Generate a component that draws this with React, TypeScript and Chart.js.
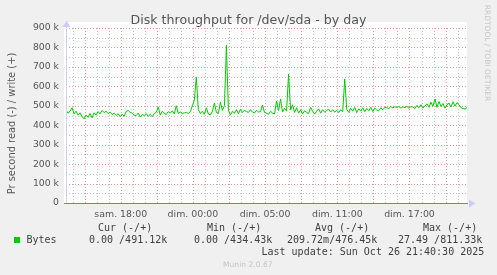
import React, { useEffect, useRef } from "react";
import { Chart, registerables } from "chart.js";

Chart.register(...registerables);

// ---- data -------------------------------------------------------------
const TITLE = "Disk throughput for /dev/sda - by day";
const Y_TITLE = "Pr second read (-) / write (+)";
const SIDE_TEXT = "RRDTOOL / TOBI OETIKER";
const FOOTER = "Munin 2.0.67";
const LAST_UPDATE = "Last update: Sun Oct 26 21:40:30 2025";

// hours relative to "sam. 18:00"; one sample every 10 minutes
const SAMPLE_START_HOUR = -4.55;
const SAMPLE_STEP_HOUR = 1 / 6;
const X_MIN = -4.55;
const X_MAX = 28.78;

const tickHours = [0, 6, 12, 18, 24];
const tickLabels = ["sam. 18:00", "dim. 00:00", "dim. 05:00", "dim. 11:00", "dim. 17:00"];
const yTicks = [0, 100, 200, 300, 400, 500, 600, 700, 800, 900];

// write bytes per second (k)
const writeK = [
  478, 462, 472, 490, 458, 472, 452, 464, 445, 432,
  452, 440, 460, 438, 464, 452, 470, 458, 476, 465,
  472, 460, 467, 455, 462, 450, 460, 444, 457, 446,
  470, 476, 466, 463, 452, 450, 462, 443, 455, 450,
  460, 446, 456, 444, 460, 466, 494, 452, 472, 460,
  456, 470, 462, 474, 458, 500, 460, 468, 461, 463,
  466, 460, 470, 500, 530, 647, 480, 460, 472, 456,
  490, 458, 452, 470, 514, 466, 460, 518, 476, 500,
  811, 478, 452, 472, 462, 480, 460, 482, 465, 477,
  470, 466, 480, 468, 463, 477, 468, 470, 504, 466,
  462, 456, 472, 462, 458, 524, 476, 535, 468, 487,
  472, 663, 478, 505, 466, 490, 462, 480, 458, 474,
  466, 460, 492, 472, 458, 472, 484, 462, 480, 467,
  476, 482, 468, 480, 467, 477, 465, 480, 470, 638,
  482, 466, 487, 472, 492, 465, 484, 472, 490, 469,
  487, 475, 492, 470, 488, 478, 474, 490, 480, 492,
  490, 486, 496, 489, 495, 491, 496, 488, 495, 490,
  497, 488, 495, 494, 486, 502, 490, 506, 488, 499,
  510, 492, 518, 497, 535, 492, 522, 496, 512, 488,
  506, 514, 493, 521, 498, 516, 506, 490, 486, 483,
  491,
];

const legendSeries = "Bytes";
const legendHeaders = ["Cur (-/+)", "Min (-/+)", "Avg (-/+)", "Max (-/+)"];
const legendValues = ["0.00 /491.12k", "0.00 /434.43k", "209.72m/476.45k", "27.49 /811.33k"];

// ---- styling ----------------------------------------------------------
const W = 497;
const H = 275;
const GREEN = "#00cc00";
const BACK = "#f0f0f0";
const GRID_MINOR = "#c4c4c4";
const GRID_MAJOR = "#e49a9a";
const SANS = "'DejaVu Sans', sans-serif";
const MONO = "'DejaVu Sans Mono', monospace";

const muninPlugin = {
  id: "munin",
  beforeDraw(chart: any) {
    const ctx = chart.ctx;
    const { left, right, bottom } = chart.chartArea;
    ctx.save();
    ctx.fillStyle = BACK;
    ctx.fillRect(0, 0, W, H);
    ctx.fillStyle = "#ffffff";
    ctx.fillRect(left - 2, 22, right - left + 2, bottom - 22 + 1);
    ctx.restore();
  },
  beforeDatasetsDraw(chart: any) {
    const ctx = chart.ctx;
    const xs = chart.scales.x;
    const ys = chart.scales.y;
    const { left, right, top, bottom } = chart.chartArea;
    ctx.save();
    ctx.lineWidth = 1;
    ctx.setLineDash([1, 2]);
    for (let v = 50; v <= 900; v += 50) {
      const py = Math.round(ys.getPixelForValue(v)) + 0.5;
      ctx.strokeStyle = v % 100 === 0 ? GRID_MAJOR : GRID_MINOR;
      ctx.beginPath();
      ctx.moveTo(left, py);
      ctx.lineTo(right, py);
      ctx.stroke();
    }
    for (let h = Math.ceil(X_MIN); h <= X_MAX; h++) {
      const px = Math.round(xs.getPixelForValue(h)) + 0.5;
      ctx.strokeStyle = h % 3 === 0 ? GRID_MAJOR : GRID_MINOR;
      ctx.beginPath();
      ctx.moveTo(px, bottom);
      ctx.lineTo(px, top);
      ctx.stroke();
    }
    ctx.restore();
  },
  afterDatasetsDraw(chart: any) {
    const ctx = chart.ctx;
    const { left, right, bottom } = chart.chartArea;
    ctx.save();
    // axes
    ctx.lineWidth = 1;
    ctx.strokeStyle = "#d0d0f4";
    ctx.beginPath();
    ctx.moveTo(left + 0.5, bottom);
    ctx.lineTo(left + 0.5, 25);
    ctx.stroke();
    ctx.strokeStyle = "#80809c";
    ctx.beginPath();
    ctx.moveTo(left - 2, bottom + 0.5);
    ctx.lineTo(right + 1, bottom + 0.5);
    ctx.stroke();
    ctx.fillStyle = "#ccccff";
    ctx.beginPath();
    ctx.moveTo(left - 3.5, 27);
    ctx.lineTo(left + 0.5, 20.5);
    ctx.lineTo(left + 4.5, 27);
    ctx.closePath();
    ctx.fill();
    ctx.beginPath();
    ctx.moveTo(right + 2, bottom - 3.5);
    ctx.lineTo(right + 8.5, bottom + 0.5);
    ctx.lineTo(right + 2, bottom + 4.5);
    ctx.closePath();
    ctx.fill();

    // title
    ctx.fillStyle = "#555555";
    ctx.font = `12.6px ${SANS}`;
    ctx.textAlign = "center";
    ctx.textBaseline = "alphabetic";
    ctx.fillText(TITLE, 248.5, 23.5);

    // y axis title
    ctx.save();
    ctx.translate(14.5, 123.5);
    ctx.rotate(-Math.PI / 2);
    ctx.font = `9.9px ${SANS}`;
    ctx.fillText(Y_TITLE, 0, 0);
    ctx.restore();

    // side text
    ctx.save();
    ctx.translate(484.5, 53);
    ctx.rotate(Math.PI / 2);
    ctx.fillStyle = "#c8c8c8";
    ctx.font = `7.5px ${SANS}`;
    ctx.fillText(SIDE_TEXT, 0, 0);
    ctx.restore();

    // legend
    ctx.fillStyle = "#404040";
    ctx.font = `10px ${MONO}`;
    ctx.textAlign = "left";
    const headerX = [98, 207, 315, 423];
    legendHeaders.forEach((t, i) => ctx.fillText(t, headerX[i], 231));
    const valueX = [89, 194, 287, 398];
    legendValues.forEach((t, i) => ctx.fillText(t, valueX[i], 242.5));
    ctx.fillText(legendSeries, 26.5, 242.5);
    ctx.fillText(LAST_UPDATE, 261.5, 255);
    ctx.fillStyle = GREEN;
    ctx.fillRect(14, 237, 6, 6);

    ctx.fillStyle = "#c4c4c4";
    ctx.font = `7.6px ${SANS}`;
    ctx.fillText(FOOTER, 223, 266.8);
    ctx.restore();
  },
};

export default function App() {
  const ref = useRef<HTMLCanvasElement | null>(null);

  useEffect(() => {
    if (!ref.current) return;
    const points = writeK.map((v, i) => ({ x: SAMPLE_START_HOUR + i * SAMPLE_STEP_HOUR, y: v }));
    const chart = new Chart(ref.current, {
      type: "line",
      data: {
        datasets: [
          {
            label: legendSeries,
            data: points,
            borderColor: GREEN,
            backgroundColor: GREEN,
            borderWidth: 1,
            pointRadius: 0,
            tension: 0,
          },
        ],
      },
      options: {
        responsive: false,
        animation: false,
        devicePixelRatio: 1,
        layout: { padding: { left: 0, right: 30, top: 28, bottom: 0 } },
        plugins: { legend: { display: false }, title: { display: false }, tooltip: { enabled: false } },
        scales: {
          x: {
            type: "linear",
            min: X_MIN,
            max: X_MAX,
            afterFit: (s: any) => {
              s.height = 72;
            },
            afterBuildTicks: (s: any) => {
              s.ticks = tickHours.map((v) => ({ value: v }));
            },
            ticks: {
              autoSkip: false,
              maxRotation: 0,
              padding: 6,
              color: "#555555",
              font: { family: SANS, size: 9.4 },
              callback: (v: any) => {
                const i = tickHours.indexOf(Number(v));
                return i >= 0 ? tickLabels[i] : "";
              },
            },
            grid: { display: false, drawTicks: false },
            border: { display: false },
          },
          y: {
            type: "linear",
            min: 0,
            max: 900,
            afterFit: (s: any) => {
              s.width = 66;
            },
            afterBuildTicks: (s: any) => {
              s.ticks = yTicks.map((v) => ({ value: v }));
            },
            ticks: {
              padding: 7,
              color: "#555555",
              font: { family: SANS, size: 9.3 },
              callback: (v: any) => (Number(v) === 0 ? "0" : `${v} k`),
            },
            grid: { display: false, drawTicks: false },
            border: { display: false },
          },
        },
      },
      plugins: [muninPlugin],
    } as any);
    return () => chart.destroy();
  }, []);

  return (
    <div style={{ position: "absolute", left: 0, top: 0, width: W, height: H, background: BACK }}>
      <canvas ref={ref} width={W} height={H} style={{ display: "block", width: W, height: H }} />
    </div>
  );
}
